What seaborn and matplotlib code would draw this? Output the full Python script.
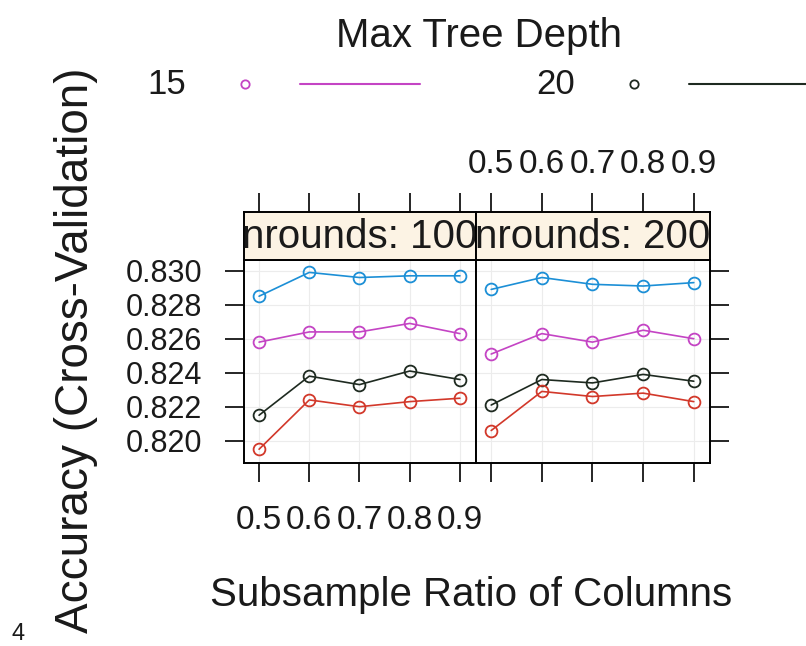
import matplotlib
matplotlib.use('Agg')
import matplotlib.pyplot as plt
import pandas as pd
import seaborn as sns
from matplotlib.lines import Line2D
from matplotlib.ticker import FormatStrFormatter

# Data
colsample = [0.5, 0.6, 0.7, 0.8, 0.9]
nrounds = [100, 200]
depths = [10, 15, 20, 25]
depth_colors = ['#1c8fd6', '#c444c4', '#1e2a20', '#d2382a']
legend_depths = [15, 20]  # only these keys are visible in the (cropped) legend

# nrounds = 100
acc_100_d10 = [0.8285, 0.8299, 0.8296, 0.8297, 0.8297]
acc_100_d15 = [0.8258, 0.8264, 0.8264, 0.8269, 0.8263]
acc_100_d20 = [0.8215, 0.8238, 0.8233, 0.8241, 0.8236]
acc_100_d25 = [0.8195, 0.8224, 0.8220, 0.8223, 0.8225]
# nrounds = 200
acc_200_d10 = [0.8289, 0.8296, 0.8292, 0.8291, 0.8293]
acc_200_d15 = [0.8251, 0.8263, 0.8258, 0.8265, 0.8260]
acc_200_d20 = [0.8221, 0.8236, 0.8234, 0.8239, 0.8235]
acc_200_d25 = [0.8206, 0.8229, 0.8226, 0.8228, 0.8223]

yticks = [0.820, 0.822, 0.824, 0.826, 0.828, 0.830]

acc = {
    100: [acc_100_d10, acc_100_d15, acc_100_d20, acc_100_d25],
    200: [acc_200_d10, acc_200_d15, acc_200_d20, acc_200_d25],
}
rows = []
for n in nrounds:
    for d, vals in zip(depths, acc[n]):
        for c, v in zip(colsample, vals):
            rows.append({'nrounds': n, 'depth': d, 'colsample': c, 'acc': v})
df = pd.DataFrame(rows)
palette = dict(zip(depths, depth_colors))

sns.set_style('white')
plt.rcParams['font.family'] = ['Liberation Sans', 'DejaVu Sans']

W, H = 806, 646
fig = plt.figure(figsize=(W / 100, H / 100), dpi=100)


def fx(px):
    return px / W


def fy(py):
    return 1 - py / H


panel_x = [(244, 476), (476, 710)]
panel_top, panel_bot = 260, 463
strip_top = 212
tick_len = 14
text_col = '#1a1a1a'

for i, n in enumerate(nrounds):
    x0, x1 = panel_x[i]
    ax = fig.add_axes([fx(x0), fy(panel_bot), fx(x1 - x0), (panel_bot - panel_top) / H])
    sns.lineplot(data=df[df['nrounds'] == n], x='colsample', y='acc', hue='depth',
                 palette=palette, marker='o', markersize=8.5, linewidth=1.2,
                 legend=False, ax=ax)
    for line in ax.lines:
        line.set_markerfacecolor('none')
        line.set_markeredgecolor(line.get_color())
        line.set_markeredgewidth(1.3)

    ax.set_xlim(0.47, 0.932)
    ax.set_ylim(0.81869, 0.83063)
    ax.set_xticks(colsample)
    ax.set_yticks(yticks)
    ax.yaxis.set_major_formatter(FormatStrFormatter('%.3f'))
    ax.grid(True, color='#ececec', linewidth=0.8)
    ax.set_axisbelow(True)
    ax.set_xlabel('')
    ax.set_ylabel('')
    for s in ax.spines.values():
        s.set_color('black')
        s.set_linewidth(1.4)

    ax.tick_params(axis='x', direction='out', length=tick_len, width=1.4,
                   bottom=True, labelbottom=(i == 0), top=False,
                   labelsize=24, pad=16, labelcolor=text_col)
    if i == 0:
        ax.tick_params(axis='y', direction='out', length=tick_len, width=1.4,
                       left=True, labelleft=True, right=False, labelright=False,
                       labelsize=22, pad=16, labelcolor=text_col)
    else:
        ax.tick_params(axis='y', direction='out', length=tick_len, width=1.4,
                       left=False, labelleft=False, right=True, labelright=False)

    # strip on top of the panel
    sax = fig.add_axes([fx(x0), fy(panel_top), fx(x1 - x0), (panel_top - strip_top) / H])
    sax.set_facecolor('#fcf3e4')
    sax.set_xlim(ax.get_xlim())
    sax.set_xticks(colsample)
    sax.set_yticks([])
    sax.xaxis.set_ticks_position('top')
    sax.tick_params(axis='x', direction='out', length=tick_len, width=1.4,
                    top=True, labeltop=(i == 1), bottom=False, labelbottom=False,
                    labelsize=24, pad=9, labelcolor=text_col)
    for s in sax.spines.values():
        s.set_color('black')
        s.set_linewidth(1.4)
    sax.text(0.5, 0.47, 'nrounds: %d' % n, transform=sax.transAxes,
             ha='center', va='center', fontsize=29, color=text_col, clip_on=True)

# axis labels
fig.text(fx(471), fy(595), 'Subsample Ratio of Columns', ha='center', va='center',
         fontsize=29, color=text_col)
fig.text(fx(76), fy(350), 'Accuracy (Cross-Validation)', ha='center', va='center',
         rotation=90, fontsize=33, color=text_col)

# legend on top (lattice style: label, point, line)
fig.text(fx(479), fy(36), 'Max Tree Depth', ha='center', va='center',
         fontsize=29, color=text_col)
key_y = fy(84)
for k, d in enumerate(legend_depths):
    col = palette[d]
    base = 167 + k * 389
    fig.text(fx(base), key_y, str(d), ha='center', va='center', fontsize=25,
             color=text_col)
    fig.add_artist(Line2D([fx(base + 78)], [key_y], marker='o', markersize=6,
                          markerfacecolor='none', markeredgecolor=col,
                          markeredgewidth=1.3, linestyle='none',
                          transform=fig.transFigure))
    fig.add_artist(Line2D([fx(base + 133), fx(base + 253)], [key_y], color=col,
                          linewidth=1.5, transform=fig.transFigure))

# page number from the scan
fig.text(fx(18), fy(634), '4', ha='center', va='center', fontsize=17, color=text_col)

fig.savefig('out.png', dpi=100)
